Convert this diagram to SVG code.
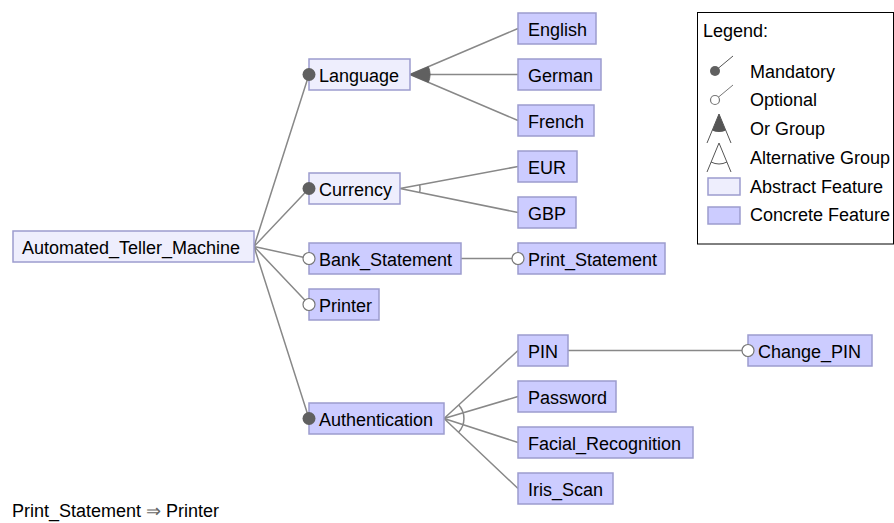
<svg xmlns="http://www.w3.org/2000/svg" width="894" height="523" viewBox="0 0 894 523">
<style>
text{font-family:"Liberation Sans",Arial,sans-serif;font-size:18px;fill:#000}
.abs{fill:#EEEEFD;stroke:#9C9CCE;stroke-width:1.5}
.con{fill:#CCCCFF;stroke:#9C9CCE;stroke-width:1.5}
.ln{stroke:#888;stroke-width:1.5;fill:none}
.man{fill:#606060}
.opt{fill:#fff;stroke:#777;stroke-width:1.2}
.or{fill:#606060;stroke:#606060;stroke-width:1}
</style>
<rect width="894" height="523" fill="#fff"/>

<g id="connectors">
<path class="ln" d="M254,246.5L309,74.5M254,246.5L309,188.5M254,246.5L309,258.5M254,246.5L309,304.5M254,246.5L309,418.5"/>
<path class="ln" d="M410,74.5L518,28.5M410,74.5L518,74.5M410,74.5L518,120.5"/>
<path class="or" d="M410,74.5L428.4,66.7A20,20 0 0 1 428.4,82.3Z"/>
<path class="ln" d="M400,188.5L518,166.5M400,188.5L518,212.5"/>
<path class="ln" d="M419.7,184.8A20,20 0 0 1 419.7,192.2"/>
<path class="ln" d="M461,258.5L518,258.5"/>
<path class="ln" d="M444,418.5L518,350.5M444,418.5L518,396.5M444,418.5L518,442.5M444,418.5L518,488.5"/>
<path class="ln" d="M458.7,405A20,20 0 0 1 458.5,432.2"/>
<path class="ln" d="M568,350.5L748,350.5"/>
</g>

<g id="Automated_Teller_Machine"><rect class="abs" x="13" y="231" width="241" height="31"/><text x="22" y="254">Automated_Teller_Machine</text></g>
<g id="Language"><rect class="abs" x="309" y="59" width="101" height="31"/><text x="319" y="82">Language</text></g>
<g id="Currency"><rect class="abs" x="309" y="173" width="91" height="31"/><text x="319" y="196">Currency</text></g>
<g id="Bank_Statement"><rect class="con" x="309" y="243" width="152" height="31"/><text x="319" y="266">Bank_Statement</text></g>
<g id="Printer"><rect class="con" x="309" y="289" width="70" height="31"/><text x="319" y="312">Printer</text></g>
<g id="Authentication"><rect class="con" x="309" y="403" width="135" height="31"/><text x="319" y="426">Authentication</text></g>
<g id="English"><rect class="con" x="518" y="13" width="78" height="31"/><text x="528" y="36">English</text></g>
<g id="German"><rect class="con" x="518" y="59" width="83" height="31"/><text x="528" y="82">German</text></g>
<g id="French"><rect class="con" x="518" y="105" width="76" height="31"/><text x="528" y="128">French</text></g>
<g id="EUR"><rect class="con" x="518" y="151" width="59" height="31"/><text x="528" y="174">EUR</text></g>
<g id="GBP"><rect class="con" x="518" y="197" width="58" height="31"/><text x="528" y="220">GBP</text></g>
<g id="Print_Statement"><rect class="con" x="518" y="243" width="147" height="31"/><text x="528" y="266">Print_Statement</text></g>
<g id="PIN"><rect class="con" x="518" y="335" width="50" height="31"/><text x="528" y="358">PIN</text></g>
<g id="Password"><rect class="con" x="518" y="381" width="98" height="31"/><text x="528" y="404">Password</text></g>
<g id="Facial_Recognition"><rect class="con" x="518" y="427" width="175" height="31"/><text x="528" y="450">Facial_Recognition</text></g>
<g id="Iris_Scan"><rect class="con" x="518" y="473" width="95" height="31"/><text x="528" y="496">Iris_Scan</text></g>
<g id="Change_PIN"><rect class="con" x="748" y="335" width="124" height="31"/><text x="758" y="358">Change_PIN</text></g>

<g id="decorations">
<circle class="man" cx="309" cy="74.5" r="6.5"/>
<circle class="man" cx="309" cy="188.5" r="6.5"/>
<circle class="opt" cx="309" cy="258.5" r="6"/>
<circle class="opt" cx="309" cy="304.5" r="6"/>
<circle class="man" cx="309" cy="418.5" r="6.5"/>
<circle class="opt" cx="518" cy="258.5" r="6"/>
<circle class="opt" cx="748" cy="350.5" r="6"/>
</g>

<g id="legend">
<rect x="697.5" y="12.5" width="196" height="231.5" fill="#fff" stroke="#000" stroke-width="1"/>
<text x="703" y="37">Legend:</text>
<line x1="715" y1="71" x2="733" y2="56" stroke="#555" stroke-width="1"/>
<circle class="man" cx="715" cy="71" r="5"/>
<text x="750" y="78">Mandatory</text>
<line x1="715" y1="100" x2="733" y2="85" stroke="#777" stroke-width="1"/>
<circle class="opt" cx="715" cy="100" r="4.5"/>
<text x="750" y="106">Optional</text>
<path d="M719,114L707,143M719,114L731,143" stroke="#555" stroke-width="1" fill="none"/>
<path d="M719,114L712.2,130.4Q719,133.5 725.8,130.4Z" fill="#555"/>
<text x="750" y="135">Or Group</text>
<path d="M719,143L707,172M719,143L731,172" stroke="#555" stroke-width="1" fill="none"/>
<path d="M711,162Q719,166 727,162" stroke="#555" stroke-width="1" fill="none"/>
<text x="750" y="164">Alternative Group</text>
<rect class="abs" x="708" y="178" width="32" height="17" stroke-width="1"/>
<text x="750" y="193">Abstract Feature</text>
<rect class="con" x="708" y="207" width="32" height="17" stroke-width="1"/>
<text x="750" y="221">Concrete Feature</text>
</g>

<text x="12" y="517">Print_Statement <tspan fill="#666">⇒</tspan> Printer</text>
</svg>
